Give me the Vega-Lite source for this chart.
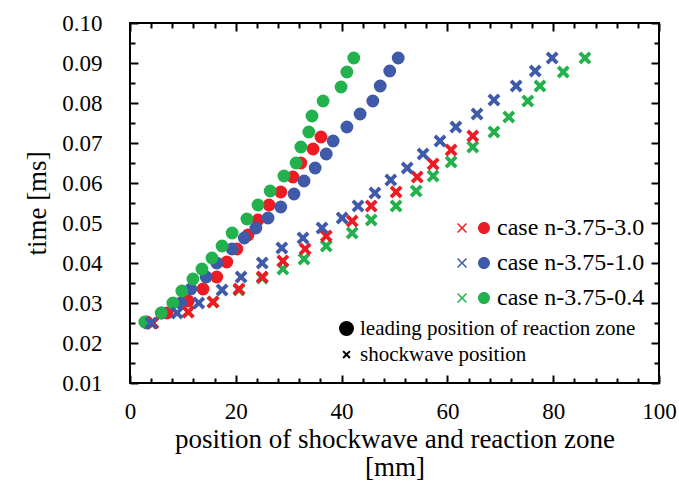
{
  "$schema": "https://vega.github.io/schema/vega-lite/v6.json",
  "width": 529,
  "height": 360,
  "autosize": "none",
  "padding": {"left": 130, "top": 23, "right": 20, "bottom": 103},
  "config": {
    "view": {"stroke": "black", "strokeWidth": 2},
    "font": "Liberation Serif",
    "axis": {"grid": false, "domain": false, "tickColor": "black", "tickWidth": 2, "labelColor": "black", "titleColor": "black", "titleFontWeight": "normal", "titleFont": "Liberation Serif", "labelFont": "Liberation Serif"},
    "legend": {"labelFont": "Liberation Serif", "labelColor": "black", "labelLimit": 0}
  },
  "data": {"values": [
    {"case": "case n-3.75-3.0", "kind": "leading position of reaction zone", "position": 3.2, "time": 0.02525},
    {"case": "case n-3.75-3.0", "kind": "leading position of reaction zone", "position": 7.0, "time": 0.0275},
    {"case": "case n-3.75-3.0", "kind": "leading position of reaction zone", "position": 11.0, "time": 0.0305},
    {"case": "case n-3.75-3.0", "kind": "leading position of reaction zone", "position": 13.8, "time": 0.0335},
    {"case": "case n-3.75-3.0", "kind": "leading position of reaction zone", "position": 16.4, "time": 0.0365},
    {"case": "case n-3.75-3.0", "kind": "leading position of reaction zone", "position": 18.3, "time": 0.04025},
    {"case": "case n-3.75-3.0", "kind": "leading position of reaction zone", "position": 20.2, "time": 0.0435},
    {"case": "case n-3.75-3.0", "kind": "leading position of reaction zone", "position": 22.3, "time": 0.047},
    {"case": "case n-3.75-3.0", "kind": "leading position of reaction zone", "position": 24.2, "time": 0.05075},
    {"case": "case n-3.75-3.0", "kind": "leading position of reaction zone", "position": 26.3, "time": 0.0545},
    {"case": "case n-3.75-3.0", "kind": "leading position of reaction zone", "position": 28.5, "time": 0.05775},
    {"case": "case n-3.75-3.0", "kind": "leading position of reaction zone", "position": 30.8, "time": 0.0615},
    {"case": "case n-3.75-3.0", "kind": "leading position of reaction zone", "position": 32.3, "time": 0.065},
    {"case": "case n-3.75-3.0", "kind": "leading position of reaction zone", "position": 34.6, "time": 0.0685},
    {"case": "case n-3.75-3.0", "kind": "leading position of reaction zone", "position": 36.1, "time": 0.0715},
    {"case": "case n-3.75-1.0", "kind": "leading position of reaction zone", "position": 3.2, "time": 0.025},
    {"case": "case n-3.75-1.0", "kind": "leading position of reaction zone", "position": 6.0, "time": 0.0275},
    {"case": "case n-3.75-1.0", "kind": "leading position of reaction zone", "position": 9.6, "time": 0.030},
    {"case": "case n-3.75-1.0", "kind": "leading position of reaction zone", "position": 11.5, "time": 0.0335},
    {"case": "case n-3.75-1.0", "kind": "leading position of reaction zone", "position": 14.4, "time": 0.0365},
    {"case": "case n-3.75-1.0", "kind": "leading position of reaction zone", "position": 16.4, "time": 0.040},
    {"case": "case n-3.75-1.0", "kind": "leading position of reaction zone", "position": 19.3, "time": 0.0435},
    {"case": "case n-3.75-1.0", "kind": "leading position of reaction zone", "position": 21.6, "time": 0.04625},
    {"case": "case n-3.75-1.0", "kind": "leading position of reaction zone", "position": 23.8, "time": 0.04875},
    {"case": "case n-3.75-1.0", "kind": "leading position of reaction zone", "position": 26.1, "time": 0.05125},
    {"case": "case n-3.75-1.0", "kind": "leading position of reaction zone", "position": 28.5, "time": 0.054},
    {"case": "case n-3.75-1.0", "kind": "leading position of reaction zone", "position": 31.0, "time": 0.05725},
    {"case": "case n-3.75-1.0", "kind": "leading position of reaction zone", "position": 32.9, "time": 0.0605},
    {"case": "case n-3.75-1.0", "kind": "leading position of reaction zone", "position": 35.0, "time": 0.06375},
    {"case": "case n-3.75-1.0", "kind": "leading position of reaction zone", "position": 37.1, "time": 0.06725},
    {"case": "case n-3.75-1.0", "kind": "leading position of reaction zone", "position": 38.4, "time": 0.0705},
    {"case": "case n-3.75-1.0", "kind": "leading position of reaction zone", "position": 41.0, "time": 0.074},
    {"case": "case n-3.75-1.0", "kind": "leading position of reaction zone", "position": 43.5, "time": 0.07725},
    {"case": "case n-3.75-1.0", "kind": "leading position of reaction zone", "position": 45.9, "time": 0.0805},
    {"case": "case n-3.75-1.0", "kind": "leading position of reaction zone", "position": 47.3, "time": 0.08425},
    {"case": "case n-3.75-1.0", "kind": "leading position of reaction zone", "position": 49.1, "time": 0.088},
    {"case": "case n-3.75-1.0", "kind": "leading position of reaction zone", "position": 50.7, "time": 0.09125},
    {"case": "case n-3.75-0.4", "kind": "leading position of reaction zone", "position": 2.8, "time": 0.02525},
    {"case": "case n-3.75-0.4", "kind": "leading position of reaction zone", "position": 5.9, "time": 0.0275},
    {"case": "case n-3.75-0.4", "kind": "leading position of reaction zone", "position": 8.1, "time": 0.030},
    {"case": "case n-3.75-0.4", "kind": "leading position of reaction zone", "position": 9.8, "time": 0.033},
    {"case": "case n-3.75-0.4", "kind": "leading position of reaction zone", "position": 11.9, "time": 0.036},
    {"case": "case n-3.75-0.4", "kind": "leading position of reaction zone", "position": 13.6, "time": 0.0385},
    {"case": "case n-3.75-0.4", "kind": "leading position of reaction zone", "position": 15.5, "time": 0.04125},
    {"case": "case n-3.75-0.4", "kind": "leading position of reaction zone", "position": 17.4, "time": 0.04425},
    {"case": "case n-3.75-0.4", "kind": "leading position of reaction zone", "position": 19.3, "time": 0.0475},
    {"case": "case n-3.75-0.4", "kind": "leading position of reaction zone", "position": 22.1, "time": 0.051},
    {"case": "case n-3.75-0.4", "kind": "leading position of reaction zone", "position": 24.2, "time": 0.0545},
    {"case": "case n-3.75-0.4", "kind": "leading position of reaction zone", "position": 26.5, "time": 0.058},
    {"case": "case n-3.75-0.4", "kind": "leading position of reaction zone", "position": 29.1, "time": 0.06175},
    {"case": "case n-3.75-0.4", "kind": "leading position of reaction zone", "position": 31.4, "time": 0.065},
    {"case": "case n-3.75-0.4", "kind": "leading position of reaction zone", "position": 32.3, "time": 0.069},
    {"case": "case n-3.75-0.4", "kind": "leading position of reaction zone", "position": 33.8, "time": 0.07275},
    {"case": "case n-3.75-0.4", "kind": "leading position of reaction zone", "position": 34.4, "time": 0.07675},
    {"case": "case n-3.75-0.4", "kind": "leading position of reaction zone", "position": 36.5, "time": 0.0805},
    {"case": "case n-3.75-0.4", "kind": "leading position of reaction zone", "position": 39.9, "time": 0.084},
    {"case": "case n-3.75-0.4", "kind": "leading position of reaction zone", "position": 41.0, "time": 0.08775},
    {"case": "case n-3.75-0.4", "kind": "leading position of reaction zone", "position": 42.3, "time": 0.09125},
    {"case": "case n-3.75-0.4", "kind": "shockwave position", "position": 4.3, "time": 0.025},
    {"case": "case n-3.75-0.4", "kind": "shockwave position", "position": 11.0, "time": 0.02775},
    {"case": "case n-3.75-0.4", "kind": "shockwave position", "position": 15.7, "time": 0.03025},
    {"case": "case n-3.75-0.4", "kind": "shockwave position", "position": 20.6, "time": 0.03325},
    {"case": "case n-3.75-0.4", "kind": "shockwave position", "position": 25.0, "time": 0.03625},
    {"case": "case n-3.75-0.4", "kind": "shockwave position", "position": 28.9, "time": 0.0385},
    {"case": "case n-3.75-0.4", "kind": "shockwave position", "position": 32.9, "time": 0.041},
    {"case": "case n-3.75-0.4", "kind": "shockwave position", "position": 37.1, "time": 0.04425},
    {"case": "case n-3.75-0.4", "kind": "shockwave position", "position": 42.0, "time": 0.0475},
    {"case": "case n-3.75-0.4", "kind": "shockwave position", "position": 45.6, "time": 0.05075},
    {"case": "case n-3.75-0.4", "kind": "shockwave position", "position": 50.3, "time": 0.05425},
    {"case": "case n-3.75-0.4", "kind": "shockwave position", "position": 54.1, "time": 0.058},
    {"case": "case n-3.75-0.4", "kind": "shockwave position", "position": 57.3, "time": 0.06175},
    {"case": "case n-3.75-0.4", "kind": "shockwave position", "position": 60.7, "time": 0.06525},
    {"case": "case n-3.75-0.4", "kind": "shockwave position", "position": 64.8, "time": 0.069},
    {"case": "case n-3.75-0.4", "kind": "shockwave position", "position": 68.8, "time": 0.07275},
    {"case": "case n-3.75-0.4", "kind": "shockwave position", "position": 71.6, "time": 0.0765},
    {"case": "case n-3.75-0.4", "kind": "shockwave position", "position": 75.2, "time": 0.0805},
    {"case": "case n-3.75-0.4", "kind": "shockwave position", "position": 77.5, "time": 0.08425},
    {"case": "case n-3.75-0.4", "kind": "shockwave position", "position": 81.9, "time": 0.08775},
    {"case": "case n-3.75-0.4", "kind": "shockwave position", "position": 86.0, "time": 0.09125},
    {"case": "case n-3.75-3.0", "kind": "shockwave position", "position": 4.3, "time": 0.025},
    {"case": "case n-3.75-3.0", "kind": "shockwave position", "position": 11.0, "time": 0.02775},
    {"case": "case n-3.75-3.0", "kind": "shockwave position", "position": 15.7, "time": 0.03025},
    {"case": "case n-3.75-3.0", "kind": "shockwave position", "position": 20.6, "time": 0.0335},
    {"case": "case n-3.75-3.0", "kind": "shockwave position", "position": 25.0, "time": 0.0365},
    {"case": "case n-3.75-3.0", "kind": "shockwave position", "position": 28.9, "time": 0.0405},
    {"case": "case n-3.75-3.0", "kind": "shockwave position", "position": 33.1, "time": 0.0435},
    {"case": "case n-3.75-3.0", "kind": "shockwave position", "position": 37.1, "time": 0.04675},
    {"case": "case n-3.75-3.0", "kind": "shockwave position", "position": 42.0, "time": 0.0505},
    {"case": "case n-3.75-3.0", "kind": "shockwave position", "position": 45.6, "time": 0.05425},
    {"case": "case n-3.75-3.0", "kind": "shockwave position", "position": 50.3, "time": 0.05775},
    {"case": "case n-3.75-3.0", "kind": "shockwave position", "position": 54.3, "time": 0.0615},
    {"case": "case n-3.75-3.0", "kind": "shockwave position", "position": 57.3, "time": 0.06475},
    {"case": "case n-3.75-3.0", "kind": "shockwave position", "position": 60.7, "time": 0.06825},
    {"case": "case n-3.75-3.0", "kind": "shockwave position", "position": 64.8, "time": 0.07175},
    {"case": "case n-3.75-1.0", "kind": "shockwave position", "position": 4.0, "time": 0.025},
    {"case": "case n-3.75-1.0", "kind": "shockwave position", "position": 8.9, "time": 0.0275},
    {"case": "case n-3.75-1.0", "kind": "shockwave position", "position": 13.0, "time": 0.030},
    {"case": "case n-3.75-1.0", "kind": "shockwave position", "position": 17.4, "time": 0.03325},
    {"case": "case n-3.75-1.0", "kind": "shockwave position", "position": 21.0, "time": 0.0365},
    {"case": "case n-3.75-1.0", "kind": "shockwave position", "position": 25.0, "time": 0.040},
    {"case": "case n-3.75-1.0", "kind": "shockwave position", "position": 28.7, "time": 0.04375},
    {"case": "case n-3.75-1.0", "kind": "shockwave position", "position": 32.7, "time": 0.04625},
    {"case": "case n-3.75-1.0", "kind": "shockwave position", "position": 36.3, "time": 0.04875},
    {"case": "case n-3.75-1.0", "kind": "shockwave position", "position": 40.1, "time": 0.05125},
    {"case": "case n-3.75-1.0", "kind": "shockwave position", "position": 43.1, "time": 0.05425},
    {"case": "case n-3.75-1.0", "kind": "shockwave position", "position": 46.3, "time": 0.0575},
    {"case": "case n-3.75-1.0", "kind": "shockwave position", "position": 49.3, "time": 0.06075},
    {"case": "case n-3.75-1.0", "kind": "shockwave position", "position": 52.4, "time": 0.06375},
    {"case": "case n-3.75-1.0", "kind": "shockwave position", "position": 55.4, "time": 0.06725},
    {"case": "case n-3.75-1.0", "kind": "shockwave position", "position": 58.6, "time": 0.0705},
    {"case": "case n-3.75-1.0", "kind": "shockwave position", "position": 61.6, "time": 0.074},
    {"case": "case n-3.75-1.0", "kind": "shockwave position", "position": 65.6, "time": 0.07725},
    {"case": "case n-3.75-1.0", "kind": "shockwave position", "position": 68.8, "time": 0.08075},
    {"case": "case n-3.75-1.0", "kind": "shockwave position", "position": 73.0, "time": 0.08425},
    {"case": "case n-3.75-1.0", "kind": "shockwave position", "position": 76.6, "time": 0.088},
    {"case": "case n-3.75-1.0", "kind": "shockwave position", "position": 79.8, "time": 0.09125}
  ]},
  "layer": [
    {
      "mark": {"type": "point", "filled": true, "opacity": 1, "size": 165},
      "encoding": {
        "x": {"field": "position", "type": "quantitative",
          "scale": {"domain": [0, 100], "nice": false, "zero": false},
          "axis": {"orient": "bottom", "values": [0, 20, 40, 60, 80, 100], "ticks": false, "labelFontSize": 23, "labelPadding": 17, "labelFlush": false,
            "title": ["position of shockwave and reaction zone", "[mm]"], "titleFontSize": 27, "titleLineHeight": 28, "titlePadding": 3}},
        "y": {"field": "time", "type": "quantitative",
          "scale": {"domain": [0.01, 0.1], "nice": false, "zero": false},
          "axis": {"orient": "left", "values": [0.01, 0.02, 0.03, 0.04, 0.05, 0.06, 0.07, 0.08, 0.09, 0.1], "format": ".2f", "ticks": false, "labelFontSize": 23, "labelPadding": 28, "labelFlush": false,
            "title": "time [ms]", "titleFontSize": 27, "titlePadding": 10}},
        "color": {"field": "case", "type": "nominal",
          "scale": {"domain": ["case n-3.75-3.0", "case n-3.75-1.0", "case n-3.75-0.4"], "range": ["#ed1c24", "#3f5aa8", "#22b14c"]},
          "legend": {"title": null, "orient": "none", "legendX": 331, "legendY": 193, "padding": 0, "offset": 0,
            "labelFontSize": 24, "labelOffset": 12, "rowPadding": 11, "symbolSize": 144, "symbolStrokeWidth": 0, "symbolOpacity": 1,
            "symbolType": "M-2.66,-0.65L-2.48,-0.83L-1.83,-0.18L-1.18,-0.83L-1,-0.65L-1.65,0L-1,0.65L-1.18,0.83L-1.83,0.18L-2.48,0.83L-2.66,0.65L-2.01,0ZM2.83,0A1,1 0 1 1 0.83,0A1,1 0 1 1 2.83,0Z"}},
        "shape": {"field": "kind", "type": "nominal",
          "scale": {"domain": ["leading position of reaction zone", "shockwave position"], "range": ["circle", "M-1,-0.58L-0.58,-1L0,-0.42L0.58,-1L1,-0.58L0.42,0L1,0.58L0.58,1L0,0.42L-0.58,1L-1,0.58L-0.42,0Z"]},
          "legend": null}
      }
    },
    {
      "mark": {"type": "point", "filled": true, "color": "black", "opacity": 0},
      "encoding": {
        "x": {"field": "position", "type": "quantitative", "scale": {"domain": [0, 100], "nice": false, "zero": false}, "axis": null},
        "y": {"field": "time", "type": "quantitative", "scale": {"domain": [0.01, 0.1], "nice": false, "zero": false}, "axis": null},
        "shape": {"field": "kind", "type": "nominal",
          "scale": {"domain": ["leading position of reaction zone", "shockwave position"], "range": ["circle", "M-0.55,-0.36L-0.36,-0.55L0,-0.19L0.36,-0.55L0.55,-0.36L0.19,0L0.55,0.36L0.36,0.55L0,0.19L-0.36,0.55L-0.55,0.36L-0.19,0Z"]},
          "legend": {"title": null, "orient": "none", "legendX": 206, "legendY": 295, "padding": 0, "offset": 0,
            "labelFontSize": 21, "labelOffset": 3, "rowPadding": 4, "symbolSize": 225,
            "symbolFillColor": "black", "symbolStrokeWidth": 0, "symbolOpacity": 1}}
      }
    },
    {
      "mark": {"type": "point", "opacity": 0},
      "encoding": {
        "x": {"field": "position", "type": "quantitative", "scale": {"domain": [0, 100], "nice": false, "zero": false},
          "axis": {"orient": "top", "offset": -360, "zindex": 1, "values": [0, 20, 40, 60, 80, 100], "labels": false, "title": null, "ticks": true, "tickColor": "black", "tickWidth": 2, "tickSize": 8}},
        "y": {"field": "time", "type": "quantitative", "scale": {"domain": [0.01, 0.1], "nice": false, "zero": false},
          "axis": {"orient": "right", "offset": -529, "zindex": 1, "values": [0.01, 0.02, 0.03, 0.04, 0.05, 0.06, 0.07, 0.08, 0.09, 0.1], "labels": false, "title": null, "ticks": true, "tickColor": "black", "tickWidth": 2, "tickSize": 8}}
      }
    },
    {
      "mark": {"type": "point", "opacity": 0},
      "encoding": {
        "x": {"field": "position", "type": "quantitative", "scale": {"domain": [0, 100], "nice": false, "zero": false},
          "axis": {"orient": "top", "offset": -360, "zindex": 1, "values": [4, 8, 12, 16, 24, 28, 32, 36, 44, 48, 52, 56, 64, 68, 72, 76, 84, 88, 92, 96], "labels": false, "title": null, "ticks": true, "tickColor": "black", "tickWidth": 2, "tickSize": 5}},
        "y": {"field": "time", "type": "quantitative", "scale": {"domain": [0.01, 0.1], "nice": false, "zero": false},
          "axis": {"orient": "right", "offset": -529, "zindex": 1, "values": [0.015, 0.025, 0.035, 0.045, 0.055, 0.065, 0.075, 0.085, 0.095], "labels": false, "title": null, "ticks": true, "tickColor": "black", "tickWidth": 2, "tickSize": 5}}
      }
    },
    {
      "mark": {"type": "point", "opacity": 0},
      "encoding": {
        "x": {"field": "position", "type": "quantitative", "scale": {"domain": [0, 100], "nice": false, "zero": false},
          "axis": {"orient": "bottom", "offset": -360, "zindex": 1, "values": [0, 20, 40, 60, 80, 100], "labels": false, "title": null, "ticks": true, "tickColor": "black", "tickWidth": 2, "tickSize": 8}},
        "y": {"field": "time", "type": "quantitative", "scale": {"domain": [0.01, 0.1], "nice": false, "zero": false},
          "axis": {"orient": "left", "offset": -529, "zindex": 1, "values": [0.01, 0.02, 0.03, 0.04, 0.05, 0.06, 0.07, 0.08, 0.09, 0.1], "labels": false, "title": null, "ticks": true, "tickColor": "black", "tickWidth": 2, "tickSize": 8}}
      }
    },
    {
      "mark": {"type": "point", "opacity": 0},
      "encoding": {
        "x": {"field": "position", "type": "quantitative", "scale": {"domain": [0, 100], "nice": false, "zero": false},
          "axis": {"orient": "bottom", "offset": -360, "zindex": 1, "values": [4, 8, 12, 16, 24, 28, 32, 36, 44, 48, 52, 56, 64, 68, 72, 76, 84, 88, 92, 96], "labels": false, "title": null, "ticks": true, "tickColor": "black", "tickWidth": 2, "tickSize": 5}},
        "y": {"field": "time", "type": "quantitative", "scale": {"domain": [0.01, 0.1], "nice": false, "zero": false},
          "axis": {"orient": "left", "offset": -529, "zindex": 1, "values": [0.015, 0.025, 0.035, 0.045, 0.055, 0.065, 0.075, 0.085, 0.095], "labels": false, "title": null, "ticks": true, "tickColor": "black", "tickWidth": 2, "tickSize": 5}}
      }
    }
  ],
  "resolve": {"scale": {"shape": "independent"}, "axis": {"x": "independent", "y": "independent"}}
}
